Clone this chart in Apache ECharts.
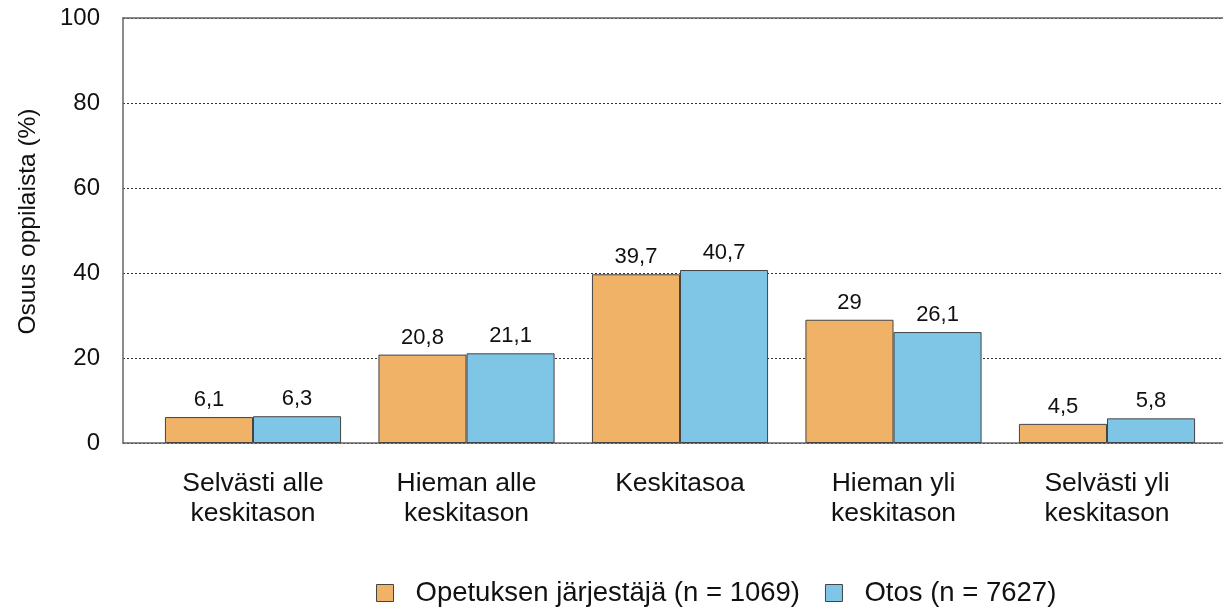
<!DOCTYPE html>
<html><head><meta charset="utf-8">
<script src="https://cdn.jsdelivr.net/npm/echarts@6/dist/echarts.min.js"></script>
<style>html,body{margin:0;padding:0;background:#fff}#c{width:1223px;height:609px}</style>
</head><body><div id="c"></div>
<script>
const categories = ['Selvästi alle\nkeskitason', 'Hieman alle\nkeskitason', 'Keskitasoa', 'Hieman yli\nkeskitason', 'Selvästi yli\nkeskitason'];
const seriesNames = ['Opetuksen järjestäjä (n = 1069)', 'Otos (n = 7627)'];
const valuesOrg = [6.1, 20.8, 39.7, 29, 4.5];
const valuesSample = [6.3, 21.1, 40.7, 26.1, 5.8];
const yTicks = [0, 20, 40, 60, 80, 100];

const font = 'Liberation Sans, Arial, sans-serif';
const fmt = p => String(p.value).replace('.', ',');
const chart = echarts.init(document.getElementById('c'));
chart.setOption({
  animation: false,
  textStyle: { fontFamily: font },
  grid: [
    { left: 123, right: 0, top: 18, bottom: 166 },
    { left: 146.25, right: 9.25, top: 18, bottom: 166 }
  ],
  legend: {
    top: 574, left: 371,
    itemWidth: 17, itemHeight: 17, itemGap: 25,
    textStyle: { fontSize: 27.5, lineHeight: 26, color: '#111', fontFamily: font, padding: [0, 0, 0, 17] },
    data: seriesNames.map(n => ({ name: n, icon: 'rect', itemStyle: { borderColor: '#444', borderWidth: 1 } }))
  },
  xAxis: [
    { gridIndex: 0, type: 'category', data: ['a'], position: 'bottom',
      axisLine: { lineStyle: { color: '#666', width: 1.5 } }, axisTick: { show: false }, axisLabel: { show: false } },
    { gridIndex: 0, type: 'category', data: ['a'], position: 'top',
      axisLine: { lineStyle: { color: '#666', width: 1.5 } }, axisTick: { show: false }, axisLabel: { show: false } },
    { gridIndex: 1, type: 'category', data: categories,
      axisLine: { show: false }, axisTick: { show: false },
      axisLabel: { fontSize: 26.5, color: '#111', margin: 26, lineHeight: 30, interval: 0, fontFamily: font } }
  ],
  yAxis: [
    { gridIndex: 0, type: 'value', min: 0, max: 100, interval: 20,
      name: 'Osuus oppilaista (%)', nameLocation: 'middle', nameGap: 82, nameRotate: 90,
      nameTextStyle: { fontSize: 24.5, color: '#111', fontFamily: font, padding: [0, 0, 0, 18] },
      axisLine: { show: true, lineStyle: { color: '#666', width: 1.5 } },
      axisTick: { show: false },
      axisLabel: { fontSize: 24, color: '#111', margin: 23, fontFamily: font,
        formatter: v => yTicks.includes(v) ? String(v) : '' },
      splitLine: { show: true, lineStyle: { color: '#333', type: [2, 2], width: 1 } } },
    { gridIndex: 1, type: 'value', min: 0, max: 100, interval: 20,
      axisLine: { show: false }, axisTick: { show: false }, axisLabel: { show: false }, splitLine: { show: false } }
  ],
  series: [
    { name: seriesNames[0], type: 'bar', xAxisIndex: 2, yAxisIndex: 1, data: valuesOrg,
      barGap: '0%', barCategoryGap: '17.5%',
      itemStyle: { color: '#F0B266', borderColor: '#444', borderWidth: 1 },
      label: { show: true, position: 'top', distance: 6, fontSize: 22, color: '#111', formatter: fmt, fontFamily: font } },
    { name: seriesNames[1], type: 'bar', xAxisIndex: 2, yAxisIndex: 1, data: valuesSample,
      barGap: '0%', barCategoryGap: '17.5%',
      itemStyle: { color: '#7FC5E5', borderColor: '#444', borderWidth: 1 },
      label: { show: true, position: 'top', distance: 6, fontSize: 22, color: '#111', formatter: fmt, fontFamily: font } }
  ]
});
</script></body></html>
